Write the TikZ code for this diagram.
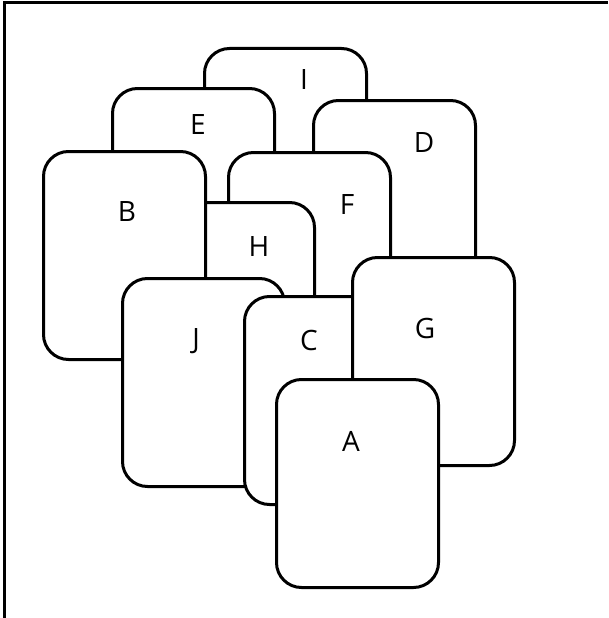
\documentclass[tikz,border=0pt]{standalone}
\usepackage{fontspec}
\setmainfont{Open Sans}
\begin{document}
\begin{tikzpicture}[x=1pt,y=-1pt,
    card/.style={draw,fill=white,line width=3pt,rounded corners=25pt,
      minimum width=162pt,minimum height=208pt,inner sep=0pt,anchor=north west},
    lbl/.style={font=\fontsize{28}{30}\selectfont,inner sep=0pt}]
        \useasboundingbox (0,0) rectangle (608,618);
        \draw[line width=3pt] (4,618) --(4,3) --(608,3);
        % cards, back to front
        \node[card] (cardI) at (203,47) {};
        \node[lbl] (labI) at (304,80) {I};
        \node[card] (cardE) at (111,87) {};
        \node[lbl] (labE) at (198,125) {E};
        \node[card] (cardD) at (312,99) {};
        \node[lbl] (labD) at (424,143) {D};
        \node[card] (cardF) at (227,151) {};
        \node[lbl] (labF) at (347,205) {F};
        \node[card] (cardH) at (151,201) {};
        \node[lbl] (labH) at (259,247) {H};
        \node[card] (cardB) at (42,150) {};
        \node[lbl] (labB) at (127,212) {B};
        \node[card] (cardJ) at (121,277) {};
        \node[lbl] (labJ) at (196,341) {J};
        \node[card] (cardC) at (243,295) {};
        \node[lbl] (labC) at (309,340) {C};
        \node[card] (cardG) at (351,256) {};
        \node[lbl] (labG) at (425,328) {G};
        \node[card] (cardA) at (275,378) {};
        \node[lbl] (labA) at (351,441) {A};
    \end{tikzpicture}
\end{document}
